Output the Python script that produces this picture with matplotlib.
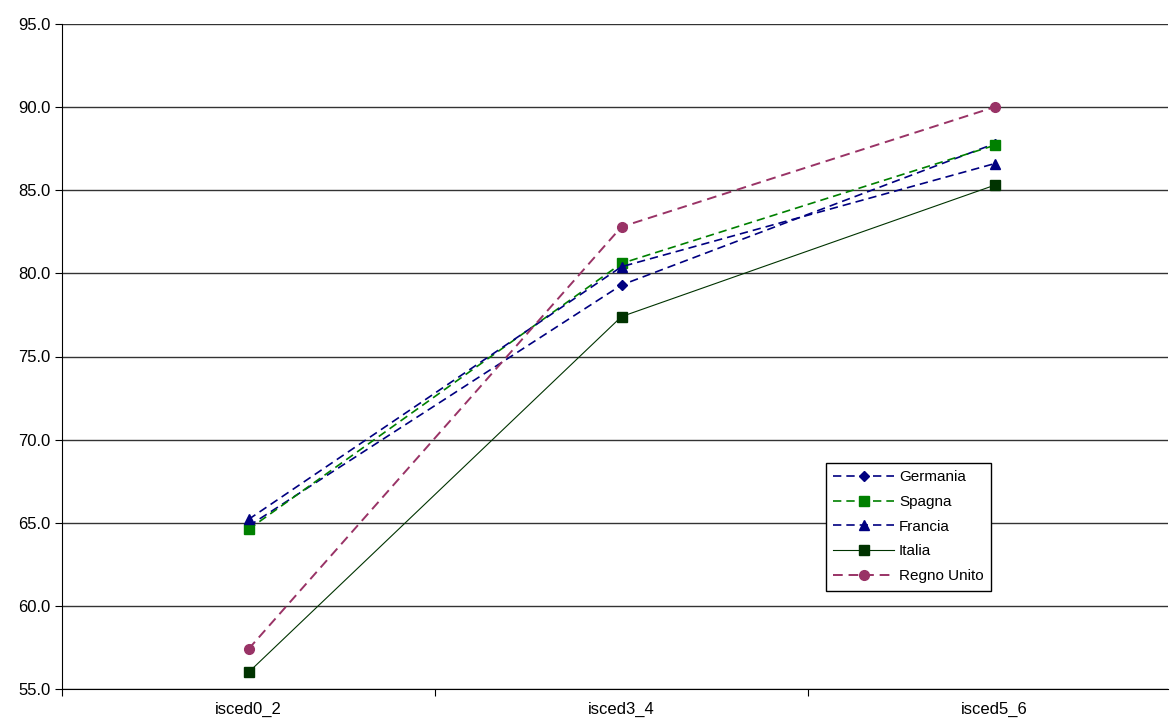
import matplotlib
matplotlib.use("Agg")
import matplotlib.pyplot as plt
from matplotlib.ticker import FixedLocator, FormatStrFormatter

categories = ["isced0_2", "isced3_4", "isced5_6"]
germania = [64.8, 79.3, 87.8]
spagna = [64.6, 80.6, 87.7]
francia = [65.2, 80.4, 86.6]
italia = [56.0, 77.4, 85.3]
regno_unito = [57.4, 82.8, 90.0]

plt.rcParams['font.family'] = ['Liberation Sans', 'DejaVu Sans']
fig = plt.figure(figsize=(11.7, 7.24), dpi=100)
ax = fig.add_axes([62/1170, 1-689/724, (1168-62)/1170, (689-24)/724])
x = [0.5, 1.5, 2.5]
ax.plot(x, germania, color='#000080', ls=(0, (5, 3)), lw=1.2, marker='D', ms=5, label='Germania')
ax.plot(x, spagna, color='#008000', ls=(0, (5, 3)), lw=1.2, marker='s', ms=7, label='Spagna')
ax.plot(x, francia, color='#000080', ls=(0, (5, 3)), lw=1.2, marker='^', ms=7, label='Francia')
ax.plot(x, italia, color='#003300', ls='-', lw=0.8, marker='s', ms=7, label='Italia')
ax.plot(x, regno_unito, color='#993366', ls=(0, (5, 3)), lw=1.4, marker='o', ms=7, label='Regno Unito')
ax.set_xlim(0, 1106/373)
ax.set_ylim(55, 95)
ax.yaxis.set_major_locator(FixedLocator([55, 60, 65, 70, 75, 80, 85, 90, 95]))
ax.yaxis.set_major_formatter(FormatStrFormatter('%.1f'))
ax.set_xticks([0, 1, 2])
ax.set_xticklabels([])
ax.set_xticks(x, minor=True)
ax.set_xticklabels(categories, minor=True)
ax.tick_params(axis='x', which='minor', length=0, pad=9)
ax.tick_params(axis='both', which='major', direction='out', length=5)
ax.tick_params(labelsize=12, which='both')
ax.grid(axis='y', color='#333333', lw=1)
for s in ['top', 'right']:
    ax.spines[s].set_visible(False)
leg = ax.legend(loc='upper left', bbox_to_anchor=((818-62)/1106, (689-455)/665), fontsize=11,
                fancybox=False, edgecolor='black', framealpha=1, handlelength=4, labelspacing=0.7,
                borderpad=0.5, handletextpad=0.3)
leg.get_frame().set_linewidth(1)
fig.savefig("out.png", dpi=100, facecolor='white')
